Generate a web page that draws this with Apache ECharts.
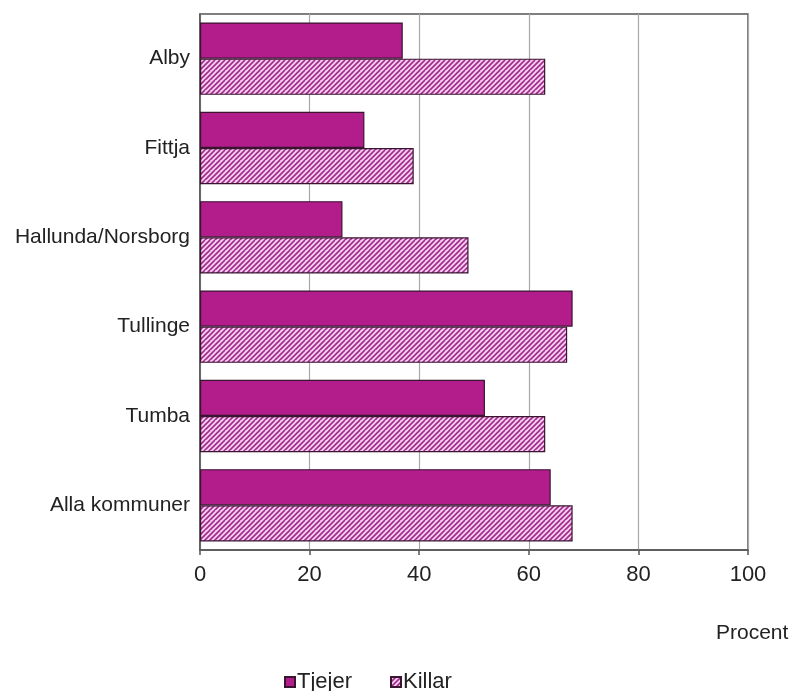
<!DOCTYPE html>
<html>
<head>
<meta charset="utf-8">
<script src="https://cdn.jsdelivr.net/npm/echarts@6/dist/echarts.min.js"></script>
<style>
  html, body { margin: 0; padding: 0; background: #fff; }
  #chart { width: 791px; height: 691px; }
</style>
</head>
<body>
<div id="chart"></div>
<script>
const categories = ['Alby', 'Fittja', 'Hallunda/Norsborg', 'Tullinge', 'Tumba', 'Alla kommuner'];
const tjejer = [37, 30, 26, 68, 52, 64];
const killar = [63, 39, 49, 67, 63, 68];
const xTicks = [0, 20, 40, 60, 80, 100];
const seriesNames = ['Tjejer', 'Killar'];
const unitLabel = 'Procent';

function makeHatch() {
  const c = document.createElement('canvas');
  c.width = 10; c.height = 10;
  const ctx = c.getContext('2d');
  ctx.fillStyle = '#F6CFF0';
  ctx.fillRect(0, 0, 10, 10);
  ctx.strokeStyle = '#A02A8A';
  ctx.lineWidth = 1.6;
  for (let k = -10; k <= 20; k += 5) {
    ctx.beginPath();
    ctx.moveTo(k - 3, 13);
    ctx.lineTo(k + 10, 0);
    ctx.stroke();
  }
  return c;
}
const hatch = { image: makeHatch(), repeat: 'repeat' };
const font = '"Liberation Sans", Arial, sans-serif';

const chart = echarts.init(document.getElementById('chart'));
chart.setOption({
  animation: false,
  backgroundColor: '#fff',
  grid: {
    left: 200, right: 43, top: 14, bottom: 141,
    show: true, borderColor: '#555', borderWidth: 1.5, backgroundColor: 'transparent'
  },
  xAxis: {
    type: 'value', min: xTicks[0], max: xTicks[xTicks.length - 1], interval: 20,
    axisLine: { show: true, lineStyle: { color: '#555', width: 1.5 } },
    axisTick: { show: true, length: 5, lineStyle: { color: '#555', width: 1.5 } },
    axisLabel: { fontSize: 22, color: '#222', fontFamily: font, margin: 14 },
    splitLine: { show: true, lineStyle: { color: '#A8A8A8', width: 1.2 } }
  },
  yAxis: {
    type: 'category', data: categories, inverse: true,
    axisLine: { show: true, lineStyle: { color: '#555', width: 1.5 } },
    axisTick: { show: false },
    axisLabel: { fontSize: 21, color: '#222', fontFamily: font, margin: 10 }
  },
  legend: {
    left: 279, top: 666, itemWidth: 10, itemHeight: 10, itemGap: 38,
    icon: 'rect',
    textStyle: { fontSize: 22, color: '#222', fontFamily: font, padding: [0, 0, 0, -3] },
    data: seriesNames
  },
  graphic: [{
    type: 'text', left: 716, top: 623,
    style: { text: unitLabel, fontSize: 21, fill: '#222', fontFamily: font }
  }],
  series: [
    {
      name: seriesNames[0], type: 'bar', data: tjejer,
      barGap: '0%', barCategoryGap: '19%',
      itemStyle: { color: '#B21C8B', borderColor: '#3a1530', borderWidth: 1.2 }
    },
    {
      name: seriesNames[1], type: 'bar', data: killar,
      barGap: '0%', barCategoryGap: '19%',
      itemStyle: { color: hatch, borderColor: '#3a1530', borderWidth: 1.2 }
    }
  ]
});
</script>
</body>
</html>
